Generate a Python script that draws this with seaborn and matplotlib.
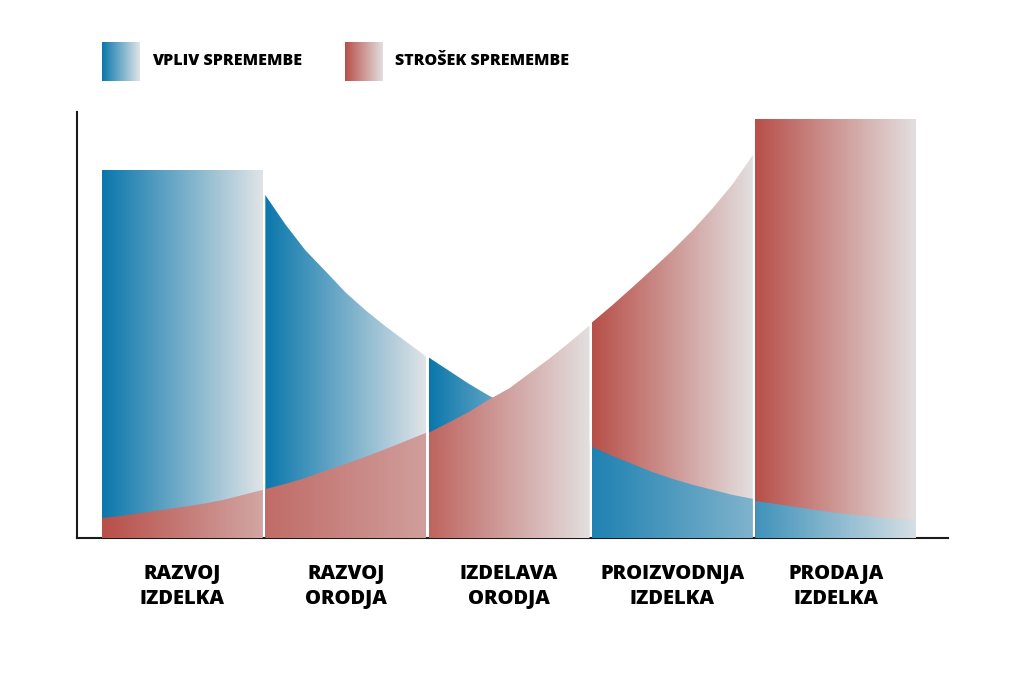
import numpy as np
import matplotlib.pyplot as plt
import seaborn as sns
from matplotlib.patches import Polygon

sns.set_style('white')
plt.rcParams['font.family'] = ['Open Sans', 'DejaVu Sans']

############
# Data
############
STAGES = ['RAZVOJ\nIZDELKA', 'RAZVOJ\nORODJA', 'IZDELAVA\nORODJA',
          'PROIZVODNJA\nIZDELKA', 'PRODAJA\nIZDELKA']
# sample positions inside each stage (0 = start, 1 = end)
POS = [0.0, 0.125, 0.25, 0.375, 0.5, 0.625, 0.75, 0.875, 1.0]
# impact of change (blue), 0-100 scale
IMPACT = [
    [86.4, 86.4, 86.4, 86.4, 86.4, 86.4, 86.4, 86.4, 86.4],
    [80.5, 73.6, 67.5, 62.6, 57.6, 53.4, 49.6, 46.1, 42.6],
    [42.4, 39.3, 36.2, 33.4, 31.1, 28.7, 26.4, 24.2, 22.4],
    [21.4, 19.3, 17.4, 15.5, 13.9, 12.5, 11.3, 10.1, 9.2],
    [8.7, 8.0, 7.3, 6.6, 5.9, 5.4, 4.9, 4.5, 4.2],
]
# cost of change (red)
COST = [
    [4.7, 5.2, 5.9, 6.6, 7.3, 8.0, 8.9, 10.1, 11.3],
    [11.5, 12.7, 14.1, 15.8, 17.4, 19.1, 20.9, 22.8, 24.7],
    [24.7, 27.1, 29.6, 32.5, 35.1, 38.6, 42.1, 45.9, 49.9],
    [50.6, 54.6, 58.8, 63.1, 67.5, 72.2, 77.4, 83.1, 89.9],
    [98.4, 98.4, 98.4, 98.4, 98.4, 98.4, 98.4, 98.4, 98.4],
]
LEGEND = ['VPLIV SPREMEMBE', 'STROŠEK SPREMEMBE']

############
# Style
############
BLUE, BLUE_LIGHT = '#0a77ac', '#e0e4e7'
RED, RED_LIGHT = '#b84f49', '#e3dfdf'
blue_cmap = sns.blend_palette([BLUE, BLUE_LIGHT], as_cmap=True)
red_cmap = sns.blend_palette([RED, RED_LIGHT], as_cmap=True)
# gradient range (dark -> light) per stage
BLUE_RANGE = [(0, 1), (0, 1), (0, 1), (0.1, 0.55), (0.25, 0.95)]
RED_RANGE = [(0, 0.6), (0.2, 0.55), (0.15, 1), (0, 1), (0, 1)]
BLUE_ON_TOP = [False, False, False, True, True]
WIDTH = 0.985
TEXT_KW = dict(color='black', fontweight='heavy')


def gradient_area(ax, xs, ys, cmap, rng, z):
    verts = [(xs[0], 0)] + list(zip(xs, ys)) + [(xs[-1], 0)]
    poly = Polygon(verts, closed=True, facecolor='none', edgecolor='none')
    ax.add_patch(poly)
    grad = np.linspace(rng[0], rng[1], 256).reshape(1, -1)
    im = ax.imshow(grad, cmap=cmap, vmin=0, vmax=1, aspect='auto', origin='lower',
                   extent=[xs[0], xs[-1], 0, max(ys)], zorder=z, interpolation='bilinear')
    im.set_clip_path(poly)


fig = plt.figure(figsize=(10.24, 6.83), dpi=100)
ax = fig.add_axes([0.0752, 0.2123, 0.8506, 0.6237])

for i in range(len(STAGES)):
    xs = i + np.array(POS) * WIDTH
    top = BLUE_ON_TOP[i]
    gradient_area(ax, xs, IMPACT[i], blue_cmap, BLUE_RANGE[i], 3 if top else 2)
    gradient_area(ax, xs, COST[i], red_cmap, RED_RANGE[i], 2 if top else 3)

ax.set_xlim(-0.153, 5.18)
ax.set_ylim(0, 100)
ax.set_yticks([])
ax.set_xticks(np.arange(len(STAGES)) + WIDTH / 2)
ax.set_xticklabels(STAGES, fontsize=14.5, linespacing=1.28, **TEXT_KW)
ax.tick_params(axis='x', length=0, pad=19)
sns.despine(ax=ax)
for s in ['left', 'bottom']:
    ax.spines[s].set_color('#1a1a1a')
    ax.spines[s].set_linewidth(1.5)

# legend with gradient swatches
for left, cmap, label, tx in [(0.0996, blue_cmap, LEGEND[0], 0.1484),
                              (0.3369, red_cmap, LEGEND[1], 0.3857)]:
    lax = fig.add_axes([left, 0.8814, 0.0366, 0.0571])
    lax.imshow(np.linspace(0, 1, 256).reshape(1, -1), cmap=cmap, aspect='auto')
    lax.axis('off')
    fig.text(tx, 0.9107, label, fontsize=11.5, va='center', ha='left', **TEXT_KW)

fig.savefig('out.png', dpi=100)
